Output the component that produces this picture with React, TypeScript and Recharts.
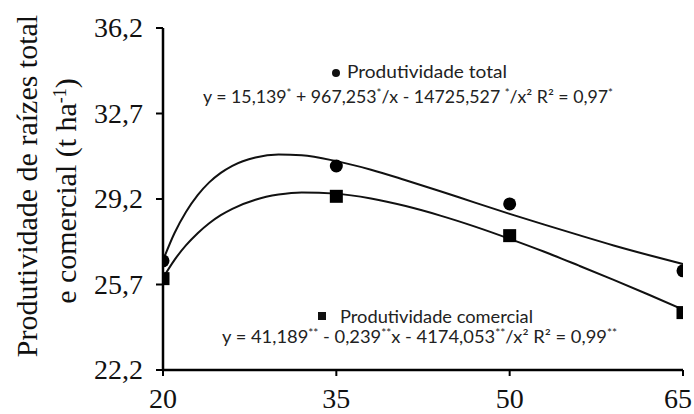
import React from "react";
import { ComposedChart, Line, Scatter, XAxis, YAxis } from "recharts";

const xTicks = [20, 35, 50, 65];
const yTicks = [22.2, 25.7, 29.2, 32.7, 36.2];

const obsX = [20, 35, 50, 65];
const totalObs = [26.67, 30.55, 29.0, 26.26];
const commercialObs = [25.94, 29.31, 27.7, 24.55];

const curveX = [20, 21, 22, 23, 24, 25, 26, 28, 30, 32, 35, 38, 41, 44, 47, 50, 53, 56, 59, 62, 65];
const totalCurve = [26.69, 27.81, 28.68, 29.36, 29.88, 30.27, 30.56, 30.9, 31.02, 30.99, 30.75, 30.4, 29.97, 29.52, 29.05, 28.59, 28.15, 27.72, 27.3, 26.91, 26.54];
const commercialCurve = [25.97, 26.71, 27.31, 27.8, 28.21, 28.54, 28.8, 29.17, 29.38, 29.47, 29.42, 29.22, 28.91, 28.52, 28.07, 27.57, 27.04, 26.47, 25.89, 25.29, 24.67];

const totalLabel = "Produtividade total";
const commercialLabel = "Produtividade comercial";
const totalEq: [string, string][] = [
  ["y = 15,139", "*"],
  [" + 967,253", "*"],
  ["/x - 14725,527 ", "*"],
  ["/x² R² = 0,97", "*"],
];
const commercialEq: [string, string][] = [
  ["y = 41,189", "**"],
  [" - 0,239", "**"],
  ["x - 4174,053", "**"],
  ["/x² R² = 0,99", "**"],
];
const yLabel1 = "Produtividade de raízes total";
const yLabel2 = "e comercial (t ha";

const totalObsData = obsX.map((x, i) => ({ x, y: totalObs[i] }));
const commercialObsData = obsX.map((x, i) => ({ x, y: commercialObs[i] }));
const totalCurveData = curveX.map((x, i) => ({ x, y: totalCurve[i] }));
const commercialCurveData = curveX.map((x, i) => ({ x, y: commercialCurve[i] }));

const SERIF = "'Liberation Serif', 'Times New Roman', serif";
const SANS = "Lato, 'Open Sans', sans-serif";

const YTick = (props: any) => {
  const { x, y, payload } = props;
  return (
    <text x={x} y={y} dy={9} textAnchor="end" fontFamily={SERIF} fontSize={28} fill="#111">
      {Number(payload.value).toFixed(1).replace(".", ",")}
    </text>
  );
};

const XTick = (props: any) => {
  const { x, y, payload } = props;
  const cx = Math.min(x, 678);
  return (
    <text x={cx} y={y} dy={30} textAnchor="middle" fontFamily={SERIF} fontSize={28} fill="#111">
      {String(payload.value)}
    </text>
  );
};

const Equation = ({ parts, x, y, len }: { parts: [string, string][]; x: number; y: number; len: number }) => (
  <text x={x} y={y} fontFamily={SANS} fontSize={17} fill="#222" textLength={len} lengthAdjust="spacingAndGlyphs">
    {parts.map(([t, s], i) => (
      <React.Fragment key={i}>
        <tspan dy={i === 0 ? 0 : 6}>{t}</tspan>
        <tspan dy={-6} fontSize={11}>{s}</tspan>
      </React.Fragment>
    ))}
  </text>
);

export default function App() {
  return (
    <div style={{ position: "absolute", left: 0, top: 0, width: 694, height: 414, background: "#fff" }}>
      <ComposedChart width={694} height={414} margin={{ top: 28, right: 11, left: 0, bottom: 0 }}>
        <XAxis
          type="number"
          dataKey="x"
          domain={[20, 65]}
          ticks={xTicks}
          allowDataOverflow
          height={44}
          axisLine={{ stroke: "#000", strokeWidth: 2.5 }}
          tickLine={{ stroke: "#000", strokeWidth: 2 }}
          tickSize={6}
          tick={<XTick />}
        />
        <YAxis
          type="number"
          dataKey="y"
          domain={[22.2, 36.2]}
          ticks={yTicks}
          allowDataOverflow
          width={163}
          axisLine={{ stroke: "#000", strokeWidth: 2.5 }}
          tickLine={{ stroke: "#000", strokeWidth: 2 }}
          tickSize={7}
          tickMargin={13}
          tick={<YTick />}
        />
        <Line data={totalCurveData} dataKey="y" type="monotone" stroke="#111" strokeWidth={2} dot={false} isAnimationActive={false} />
        <Line data={commercialCurveData} dataKey="y" type="monotone" stroke="#111" strokeWidth={2} dot={false} isAnimationActive={false} />
        <Scatter
          data={totalObsData}
          dataKey="y"
          isAnimationActive={false}
          shape={(p: any) => <circle cx={p.cx} cy={p.cy} r={6.5} fill="#000" />}
        />
        <Scatter
          data={commercialObsData}
          dataKey="y"
          isAnimationActive={false}
          shape={(p: any) => <rect x={p.cx - 6.5} y={p.cy - 6.5} width={13} height={13} fill="#000" />}
        />
      </ComposedChart>
      <svg width={694} height={414} style={{ position: "absolute", left: 0, top: 0, pointerEvents: "none" }}>
        <text x={37} y={186} transform="rotate(-90 37 186)" textAnchor="middle" fontFamily={SERIF} fontSize={30} fill="#111">
          {yLabel1}
        </text>
        <text x={76} y={191} transform="rotate(-90 76 191)" textAnchor="middle" fontFamily={SERIF} fontSize={30} fill="#111">
          {yLabel2}
          <tspan dy={-10} fontSize={18}>-1</tspan>
          <tspan dy={10}>)</tspan>
        </text>

        <circle cx={336} cy={73} r={4} fill="#111" />
        <text x={347} y={78} fontFamily={SANS} fontSize={17} fill="#222" textLength={160} lengthAdjust="spacingAndGlyphs">
          {totalLabel}
        </text>
        <Equation parts={totalEq} x={203} y={103} len={410} />

        <rect x={318} y={312} width={8} height={8} fill="#111" />
        <text x={340} y={323} fontFamily={SANS} fontSize={17} fill="#222" textLength={193} lengthAdjust="spacingAndGlyphs">
          {commercialLabel}
        </text>
        <Equation parts={commercialEq} x={222} y={343} len={395} />
      </svg>
    </div>
  );
}
